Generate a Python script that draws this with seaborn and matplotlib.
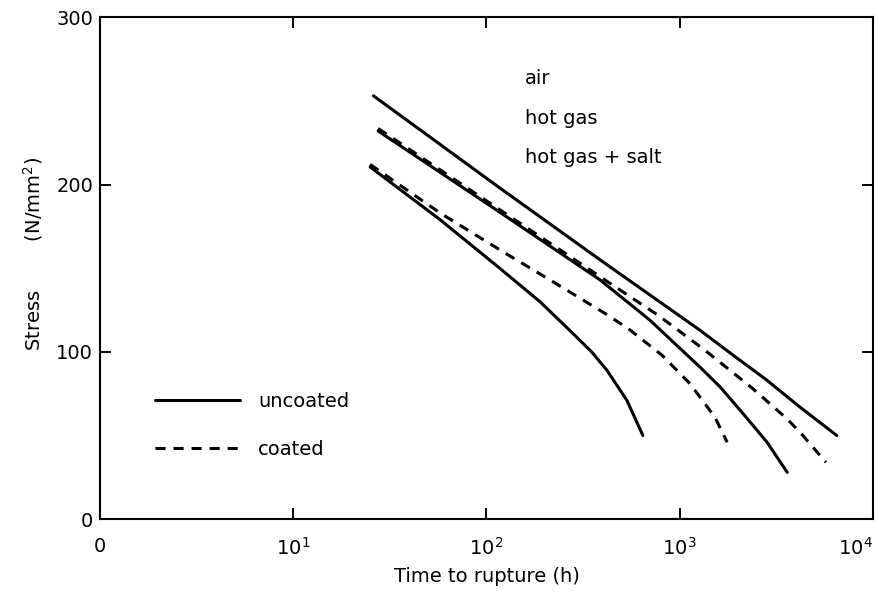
import matplotlib
matplotlib.use("Agg")
import matplotlib.pyplot as plt
import seaborn as sns
import pandas as pd

# -----------------------------
# Data (time in h, stress in N/mm^2)
# -----------------------------
air_time = [26, 117, 387, 1270, 1890, 2830, 4190, 6500]
air_stress = [253, 198, 155, 113, 98, 83, 67, 50]

gas_unc_time = [27.5, 117, 387, 700, 1270, 1620, 2130, 2830, 3600]
gas_unc_stress = [232, 183.5, 143, 119, 91, 79, 63, 46, 28]

gas_coat_time = [27.5, 117, 387, 410, 770, 1350, 2390, 3590, 4340, 5710]
gas_coat_stress = [233.5, 185, 145, 143, 122, 101, 78, 60, 50, 34]

salt_unc_time = [25, 57.5, 117, 189, 280, 350, 420, 533, 645]
salt_unc_stress = [210.5, 179, 150, 130, 111, 100, 89, 71, 50]

salt_coat_time = [25, 57.5, 125, 213, 410, 540, 810, 1130, 1520, 1760]
salt_coat_stress = [212, 183, 159, 143, 123, 114, 98, 81, 61, 46]

curves = [
    ("air", "uncoated", air_time, air_stress),
    ("hot gas", "uncoated", gas_unc_time, gas_unc_stress),
    ("hot gas + salt", "uncoated", salt_unc_time, salt_unc_stress),
    ("hot gas", "coated", gas_coat_time, gas_coat_stress),
    ("hot gas + salt", "coated", salt_coat_time, salt_coat_stress),
]

env_labels = ["air", "hot gas", "hot gas + salt"]
x_ticks = [1, 10, 100, 1000, 10000]
x_ticklabels = ["0", "$10^1$", "$10^2$", "$10^3$", "$10^4$"]
y_ticks = [0, 100, 200, 300]

rows = []
for env, coat, t, s in curves:
    for ti, si in zip(t, s):
        rows.append({"curve": env + " / " + coat, "coating": coat,
                     "time": ti, "stress": si})
df = pd.DataFrame(rows)

# -----------------------------
# Plot
# -----------------------------
sns.set_theme(style="ticks")
plt.rcParams["font.family"] = ["DejaVu Sans"]
plt.rcParams["text.color"] = "black"
plt.rcParams["axes.labelcolor"] = "black"
plt.rcParams["xtick.color"] = "black"
plt.rcParams["ytick.color"] = "black"

fig = plt.figure(figsize=(8.85, 6.13), dpi=100)
ax = fig.add_axes([0.113, 0.153, 0.8734, 0.819])

sns.lineplot(data=df, x="time", y="stress", units="curve", style="coating",
             style_order=["uncoated", "coated"],
             dashes={"uncoated": "", "coated": (3.3, 2.6)},
             estimator=None, sort=False, color="black", linewidth=2.2, ax=ax)

ax.set_xscale("log")
ax.set_xlim(1, 10000)
ax.set_ylim(0, 300)
ax.set_xticks(x_ticks)
ax.set_xticklabels(x_ticklabels)
ax.minorticks_off()
ax.set_yticks(y_ticks)
ax.tick_params(axis="both", direction="in", length=8, width=1.4,
               top=True, right=True, labelsize=14, color="black")
ax.tick_params(axis="x", pad=13)
ax.tick_params(axis="y", pad=5)
ax.get_xticklabels()[-1].set_ha("right")
for sp in ax.spines.values():
    sp.set_visible(True)
    sp.set_linewidth(1.5)
    sp.set_color("black")

ax.set_xlabel("Time to rupture (h)", fontsize=14)
ax.set_ylabel("Stress        (N/mm$^2$)", fontsize=14)
ax.xaxis.set_label_coords(0.5, -0.095)
ax.yaxis.set_label_coords(-0.071, 0.529)

for i, lab in enumerate(env_labels):
    ax.text(0.55, 0.878 - i * 0.079, lab, transform=ax.transAxes,
            fontsize=14, va="center", ha="left")

sns.move_legend(ax, "center left", bbox_to_anchor=(0.071, 0.187), title=None,
                frameon=False, fontsize=14, handlelength=4.4,
                handletextpad=0.9, labelspacing=1.5, borderpad=0,
                borderaxespad=0)

fig.savefig("out.png", dpi=100)
plt.close(fig)
